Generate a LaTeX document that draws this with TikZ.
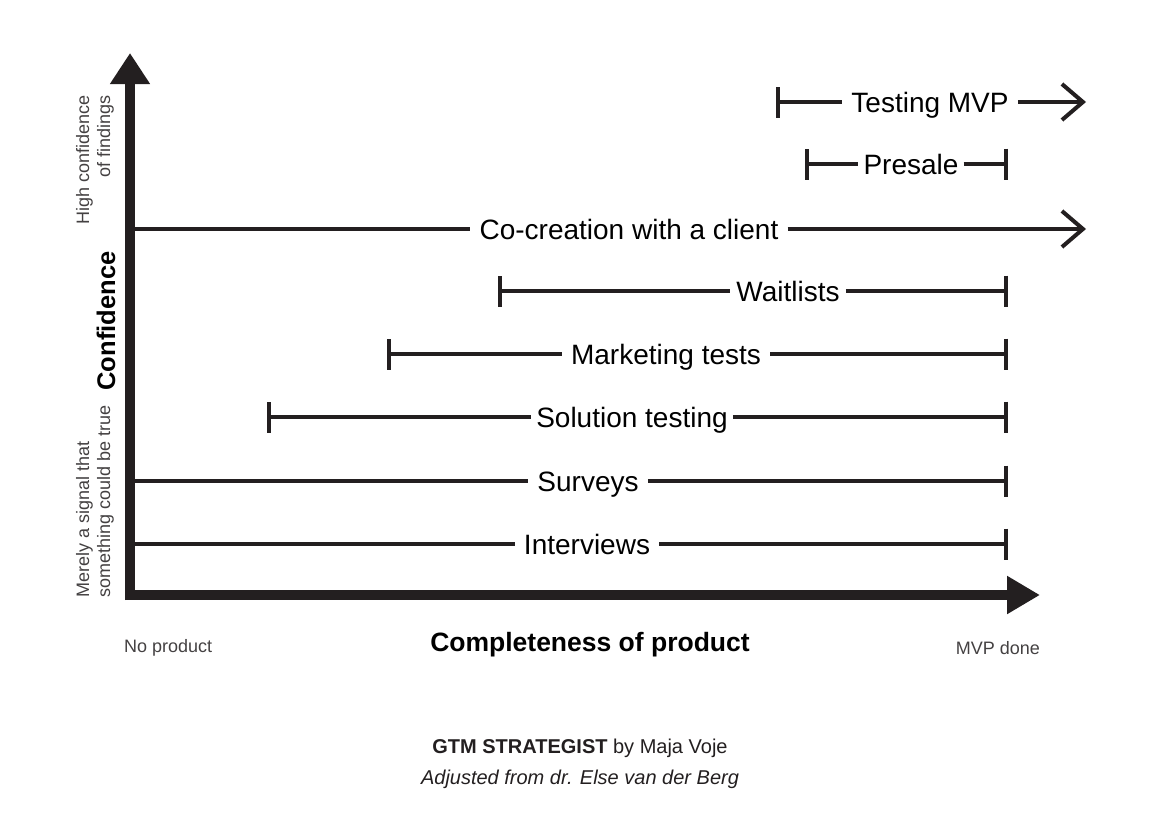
\documentclass[tikz,border=0pt]{standalone}
\usepackage{fontspec}
\setmainfont{Liberation Sans}
\usetikzlibrary{arrows.meta}
\definecolor{linec}{HTML}{231F20}
\begin{document}
\begin{tikzpicture}[x=1pt,y=-1pt,
  bar/.style={line width=4pt, draw=linec},
  lab/.style={font=\fontsize{28}{32}\selectfont, inner xsep=9pt, inner ysep=0pt, anchor=base},
  tick/.style={{Bar[width=31pt,line cap=butt]}-},
  endtick/.style={-{Bar[width=31pt]}},
  chev/.style={-{Straight Barb[length=21pt,width=36pt,line width=4pt]}},
  small/.style={font=\fontsize{18}{21}\selectfont, text=linec!85, inner sep=0pt},
  axis/.style={line width=10pt, draw=linec}
]
\useasboundingbox (0,0) rectangle (1161,815);

% axes
\coordinate (O) at (125,595);
\coordinate (ybot) at (130,600);
\coordinate (ytop) at (130,53);
\coordinate (xend) at (1040,595);
\draw[axis, -{Triangle[length=31pt,width=38pt]}] (ybot) -- (ytop);
\draw[axis, -{Triangle[length=33pt,width=36pt]}] (O) -- (xend);

% Testing MVP
\coordinate (tm1) at (776,102);
\coordinate (tm2) at (1086,102);
\node[lab] (tm) at (930,112) {Testing MVP};
\draw[bar,tick] (tm1) -- (tm.west |- tm1);
\draw[bar,chev] (tm.east |- tm2) -- (tm2);

% Presale
\coordinate (ps1) at (805,164);
\coordinate (ps2) at (1008,164);
\node[lab,inner xsep=5pt] (ps) at (911,174) {Presale};
\draw[bar,tick] (ps1) -- (ps.west |- ps1);
\draw[bar,endtick] (ps.east |- ps2) -- (ps2);

% Co-creation
\coordinate (cc1) at (132,229);
\coordinate (cc2) at (1086,229);
\node[lab] (cc) at (629,239) {Co-creation with a client};
\draw[bar] (cc1) -- (cc.west |- cc1);
\draw[bar,chev] (cc.east |- cc2) -- (cc2);

% Waitlists
\coordinate (wl1) at (498,291);
\coordinate (wl2) at (1008,291);
\node[lab,inner xsep=6pt] (wl) at (788,301) {Waitlists};
\draw[bar,tick] (wl1) -- (wl.west |- wl1);
\draw[bar,endtick] (wl.east |- wl2) -- (wl2);

% Marketing tests
\coordinate (mt1) at (387,354);
\coordinate (mt2) at (1008,354);
\node[lab] (mt) at (666,364) {Marketing tests};
\draw[bar,tick] (mt1) -- (mt.west |- mt1);
\draw[bar,endtick] (mt.east |- mt2) -- (mt2);

% Solution testing
\coordinate (st1) at (267,417);
\coordinate (st2) at (1008,417);
\node[lab,inner xsep=5pt] (st) at (632,427) {Solution testing};
\draw[bar,tick] (st1) -- (st.west |- st1);
\draw[bar,endtick] (st.east |- st2) -- (st2);

% Surveys
\coordinate (sv1) at (132,481);
\coordinate (sv2) at (1008,481);
\node[lab] (sv) at (588,491) {Surveys};
\draw[bar] (sv1) -- (sv.west |- sv1);
\draw[bar,endtick] (sv.east |- sv2) -- (sv2);

% Interviews
\coordinate (iv1) at (132,544);
\coordinate (iv2) at (1008,544);
\node[lab] (iv) at (587,554) {Interviews};
\draw[bar] (iv1) -- (iv.west |- iv1);
\draw[bar,endtick] (iv.east |- iv2) -- (iv2);

% left labels
\node[small, rotate=90, anchor=north east, align=right] (hc) at (76,95) {High confidence\\of findings};
\node[font=\bfseries\fontsize{25.5}{28}\selectfont, rotate=90, inner sep=0pt] (conf) at (106,321) {Confidence};
\node[small, rotate=90, anchor=north west, align=left] (ms) at (76,598) {Merely a signal that\\something could be true};

% bottom labels
\node[small, anchor=west] (np) at (124,648) {No product};
\node[font=\bfseries\fontsize{26.5}{30}\selectfont, inner sep=0pt] (cp) at (590,645) {Completeness of product};
\node[small, anchor=east] (mvp) at (1040,648) {MVP done};

% credits
\node[font=\fontsize{20}{24}\selectfont, text=linec, inner sep=0pt] (gtm) at (580,748) {\textbf{GTM STRATEGIST} by Maja Voje};
\node[font=\itshape\fontsize{20}{24}\selectfont, text=linec, inner sep=0pt] (adj) at (580,779) {Adjusted from dr. Else van der Berg};
\end{tikzpicture}
\end{document}
